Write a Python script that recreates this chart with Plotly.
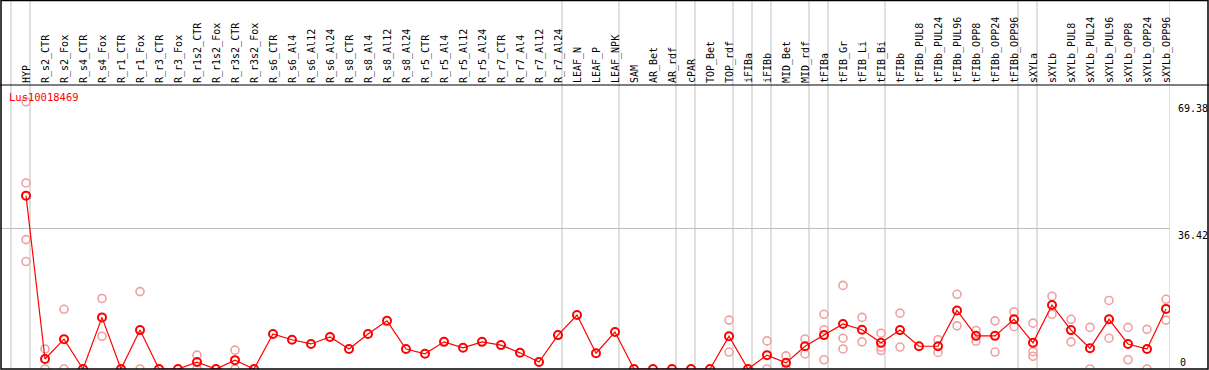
import plotly.graph_objects as go

samples = ["HYP", "R_s2_CTR", "R_s2_Fox", "R_s4_CTR", "R_s4_Fox", "R_r1_CTR", "R_r1_Fox",
           "R_r3_CTR", "R_r3_Fox", "R_r1s2_CTR", "R_r1s2_Fox", "R_r3s2_CTR", "R_r3s2_Fox",
           "R_s6_CTR", "R_s6_Al4", "R_s6_Al12", "R_s6_Al24", "R_s8_CTR", "R_s8_Al4", "R_s8_Al12",
           "R_s8_Al24", "R_r5_CTR", "R_r5_Al4", "R_r5_Al12", "R_r5_Al24", "R_r7_CTR", "R_r7_Al4",
           "R_r7_Al12", "R_r7_Al24", "LEAF_N", "LEAF_P", "LEAF_NPK", "SAM", "AR_Bet", "AR_rdf",
           "cPAR", "TOP_Bet", "TOP_rdf", "iFIBa", "iFIBb", "MID_Bet", "MID_rdf", "tFIBa",
           "tFIB_Gr", "tFIB_Li", "tFIB_Bi", "tFIBb", "tFIBb_PUL8", "tFIBb_PUL24", "tFIBb_PUL96",
           "tFIBb_OPP8", "tFIBb_OPP24", "tFIBb_OPP96", "sXYLa", "sXYLb", "sXYLb_PUL8",
           "sXYLb_PUL24", "sXYLb_PUL96", "sXYLb_OPP8", "sXYLb_OPP24", "sXYLb_OPP96"]

mean_values = [45.0, 2.6, 7.75, 0, 13.4, 0, 10.1, 0, 0, 1.8, 0, 2.3, 0,
               9.1, 7.6, 6.5, 8.3, 5.2, 9.1, 12.5, 5.2, 3.95, 7.05, 5.5, 7.05, 6.2, 4.2, 1.8, 8.8,
               14.0, 4.1, 9.6, 0, 0, 0, 0, 0, 8.5, 0, 3.6, 1.6, 5.9, 8.8, 11.7, 10.2, 6.8,
               10.1, 5.9, 5.9, 15.2, 8.6, 8.6, 12.9, 6.8, 16.6, 10.1, 5.4, 12.9, 6.5, 5.2, 15.6]

rep_columns = [0, 1, 2, 4, 6, 9, 11, 37, 39, 40, 41, 42, 43, 44, 45, 46, 48, 49, 50, 51,
               52, 53, 54, 55, 56, 57, 58, 59, 60]
rep_values = [[69.38, 48.3, 33.6, 27.9], [5.2, 0], [15.5, 0], [18.3, 8.5], [20.1, 0],
              [3.6, 0], [4.9, 0], [12.7, 4.4], [7.3, 0], [3.4, 0], [7.8, 3.9],
              [14.2, 10.2, 2.4], [21.7, 8.0, 5.2], [13.4, 7.05], [9.3, 5.7, 4.8],
              [14.5, 5.7], [7.6, 4.3], [19.4, 11.2], [10.0, 7.2], [12.5, 4.4], [14.8, 11.0],
              [11.9, 4.5, 3.3], [18.9, 14.2], [12.9, 7.05], [10.8, 0], [17.8, 8.0],
              [10.8, 2.4], [10.3, 0], [18.1, 12.7]]

group_last_index = [-1, 0, 28, 31, 34, 35, 37, 38, 39, 41, 42, 45, 52, 53, 60]
y_ticks = [0, 36.42, 69.38]
gene_name = "Lus10018469"

FONT = "DejaVu Sans Mono"
W, H = 1209, 370
L, R, T, B = 1, 39, 85, 1
PW, PH = W - L - R, H - T - B

def px_x(p):
    return (p - L) / PW

def px_y(p):
    return (H - B - p) / PH

idx = list(range(len(samples)))
rx, ry = [], []
for c, vals in zip(rep_columns, rep_values):
    for v in vals:
        rx.append(c)
        ry.append(v)

fig = go.Figure()
fig.add_trace(go.Scatter(
    x=rx, y=ry, mode="markers",
    marker=dict(symbol="circle-open", size=8, color="#f0a0a0", line=dict(width=1.6)),
    hoverinfo="skip", showlegend=False))
fig.add_trace(go.Scatter(
    x=idx, y=mean_values, mode="lines+markers",
    line=dict(color="#ff0000", width=1.2),
    marker=dict(symbol="circle-open", size=8, color="#ff0000", line=dict(width=2)),
    showlegend=False))
# overlay axis used only for the bottom "0" label and the grid line
fig.add_trace(go.Scatter(x=[None], y=[None], yaxis="y2", showlegend=False, hoverinfo="skip"))

shapes = []
for k in group_last_index:
    shapes.append(dict(type="line", xref="x", yref="paper", x0=k + 0.21, x1=k + 0.21,
                       y0=0, y1=px_y(0), line=dict(color="#c0c0c0", width=1), layer="below"))
# header separator and outer frame
shapes.append(dict(type="line", xref="paper", yref="paper", x0=px_x(0), x1=px_x(W),
                   y0=px_y(85), y1=px_y(85), line=dict(color="black", width=1.2)))
shapes.append(dict(type="rect", xref="paper", yref="paper", x0=px_x(1), x1=px_x(1208),
                   y0=px_y(369), y1=px_y(0.5), line=dict(color="black", width=1.5)))

x_lo = (L - 26) / 19
x_hi = (L + PW - 26) / 19

fig.update_layout(
    width=W, height=H,
    margin=dict(l=L, r=R, t=T, b=B, autoexpand=False),
    paper_bgcolor="white", plot_bgcolor="white",
    font=dict(family=FONT, size=10, color="black"),
    xaxis=dict(range=[x_lo, x_hi], side="top", tickmode="array", tickvals=idx,
               ticktext=samples, tickangle=-90, showgrid=False, zeroline=False,
               showline=False, ticks="", automargin=False, ticklabelstandoff=1,
               ticklabelshift=1,
               tickfont=dict(family=FONT, size=10, color="black")),
    yaxis=dict(range=[0, 73.73], side="right", tickmode="array",
               tickvals=y_ticks[1:], ticktext=[str(v) for v in y_ticks[1:]],
               ticklabelposition="outside bottom", showgrid=False, zeroline=False,
               showline=False, ticks="", automargin=False, ticklabelstandoff=7,
               tickfont=dict(family=FONT, size=10, color="black")),
    yaxis2=dict(range=[0, 73.73], side="right", overlaying="y", tickmode="array",
                tickvals=y_ticks[:2], ticktext=[str(y_ticks[0]), ""],
                ticklabelposition="outside top", showgrid=True, gridcolor="#c0c0c0",
                gridwidth=1, zeroline=False, showline=False, ticks="", automargin=False,
                ticklabelstandoff=9, tickfont=dict(family=FONT, size=10, color="black")),
    shapes=shapes,
    annotations=[dict(text=gene_name, xref="paper", yref="paper", x=px_x(7), y=px_y(97),
                      xanchor="left", yanchor="middle", showarrow=False,
                      font=dict(family=FONT, size=10.5, color="#ff0000"))],
)

fig.write_html("out.html", config={"displayModeBar": False},
               post_script="document.body.style.margin='0';document.body.style.overflow='hidden';")
